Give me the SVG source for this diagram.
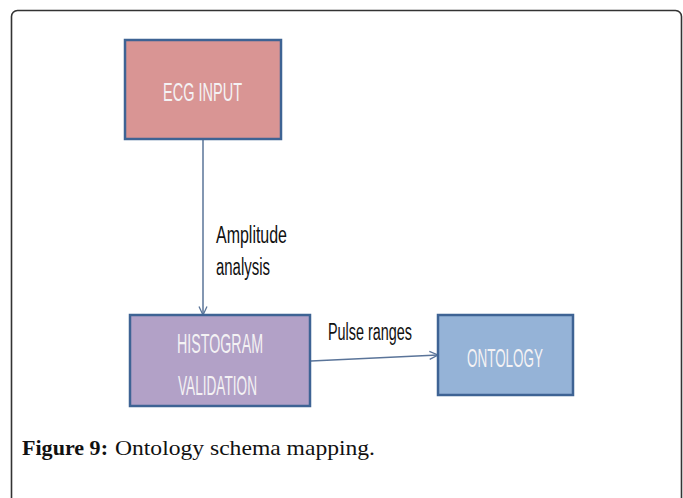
<svg xmlns="http://www.w3.org/2000/svg" width="683" height="498" viewBox="0 0 683 498">
<style>
.box{stroke:#3E6394;stroke-width:2.5}
.bt{font-family:"Liberation Sans",Arial,sans-serif;fill:#F4F2F4}
.lbl{font-family:"Liberation Sans",Arial,sans-serif;fill:#111;font-size:23.5px}
.con{stroke:#5A7499;stroke-width:1.5;fill:none}
.cap{font-family:"Liberation Serif","Times New Roman",serif;font-size:21px;fill:#111}
</style>
<defs>
<marker id="arr" viewBox="0 0 10 10" refX="9.5" refY="5" markerWidth="10" markerHeight="10" markerUnits="userSpaceOnUse" orient="auto">
<path d="M1,1 L9.5,5 L1,9" fill="none" stroke="#5A7499" stroke-width="1.3"/>
</marker>
</defs>
<rect width="683" height="498" fill="#fff"/>
<rect x="11.5" y="10.5" width="670" height="520" rx="6" fill="none" stroke="#333" stroke-width="1.6"/>
<g id="connectors">
<line class="con" x1="203" y1="140" x2="203" y2="315" marker-end="url(#arr)"/>
<line class="con" x1="311" y1="361" x2="438" y2="355" marker-end="url(#arr)"/>
<text class="lbl" x="216" y="243" textLength="71" lengthAdjust="spacingAndGlyphs">Amplitude</text>
<text class="lbl" x="216" y="275" textLength="54" lengthAdjust="spacingAndGlyphs">analysis</text>
<text class="lbl" x="328" y="340" textLength="84" lengthAdjust="spacingAndGlyphs">Pulse ranges</text>
</g>
<g id="ecg">
<rect class="box" x="125" y="40" width="156" height="99" fill="#D99594"/>
<text class="bt" x="163" y="101" font-size="26.5" textLength="79" lengthAdjust="spacingAndGlyphs">ECG  INPUT</text>
</g>
<g id="histogram">
<rect class="box" x="130" y="315" width="180" height="91" fill="#B2A1C7"/>
<text class="bt" x="177" y="353" font-size="27.5" textLength="86" lengthAdjust="spacingAndGlyphs">HISTOGRAM</text>
<text class="bt" x="178" y="395" font-size="27.5" textLength="79" lengthAdjust="spacingAndGlyphs">VALIDATION</text>
</g>
<g id="ontology">
<rect class="box" x="438" y="315" width="135" height="80" fill="#95B3D7"/>
<text class="bt" x="467" y="367" font-size="26" textLength="76" lengthAdjust="spacingAndGlyphs">ONTOLOGY</text>
</g>
<g id="caption">
<text class="cap" x="22" y="455" font-weight="bold" textLength="86" lengthAdjust="spacingAndGlyphs">Figure 9:</text>
<text class="cap" x="115" y="455" textLength="260" lengthAdjust="spacingAndGlyphs">Ontology schema mapping.</text>
</g>
</svg>
